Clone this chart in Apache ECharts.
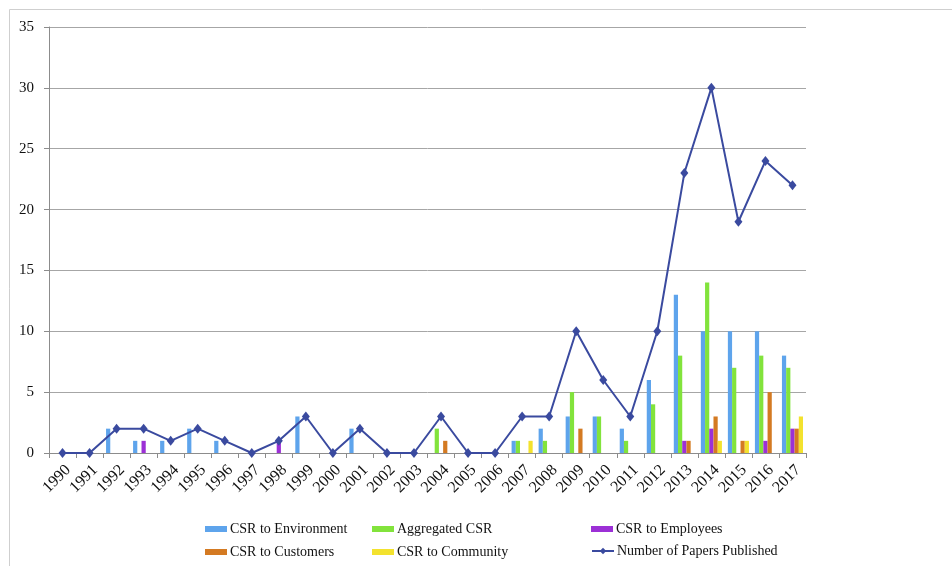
<!DOCTYPE html>
<html>
<head>
<meta charset="utf-8">
<script src="https://cdn.jsdelivr.net/npm/echarts@6/dist/echarts.min.js"></script>
<style>
  html, body { margin: 0; padding: 0; background: #fff; }
  #chart { width: 952px; height: 566px; }
</style>
</head>
<body>
<div id="chart"></div>
<script>
// Publication years
const years = ['1990','1991','1992','1993','1994','1995','1996','1997','1998','1999',
  '2000','2001','2002','2003','2004','2005','2006','2007','2008','2009',
  '2010','2011','2012','2013','2014','2015','2016','2017'];

// Papers per CSR dimension
const csrEnvironment = [0,0,2,1,1,2,1,0,0,3, 0,2,0,0,0,0,0,1,2,3, 3,2,6,13,10,10,10,8];
const csrAggregated  = [0,0,0,0,0,0,0,0,0,0, 0,0,0,0,2,0,0,1,1,5, 3,1,4,8,14,7,8,7];
const csrEmployees   = [0,0,0,1,0,0,0,0,1,0, 0,0,0,0,0,0,0,0,0,0, 0,0,0,1,2,0,1,2];
const csrCustomers   = [0,0,0,0,0,0,0,0,0,0, 0,0,0,0,1,0,0,0,0,2, 0,0,0,1,3,1,5,2];
const csrCommunity   = [0,0,0,0,0,0,0,0,0,0, 0,0,0,0,0,0,0,1,0,0, 0,0,0,0,1,1,0,3];

// Total papers published per year
const papersPublished = [0,0,2,2,1,2,1,0,1,3, 0,2,0,0,3,0,0,3,3,10, 6,3,10,23,30,19,24,22];

const yTicks = { min: 0, max: 35, interval: 5 };

const FONT = "'Liberation Serif', 'DejaVu Serif', serif";
const colors = {
  env: '#5EA4EC',
  agg: '#82E33C',
  emp: '#9C30D6',
  cus: '#D47A22',
  com: '#F3E22E',
  line: '#3A4A9F'
};

function barSeries(name, data, color) {
  return {
    name: name,
    type: 'bar',
    data: data.map(v => v === 0 ? null : v),
    itemStyle: { color: color },
    barGap: '0%',
    barCategoryGap: '22%',
    emphasis: { disabled: true }
  };
}

function legendAt(name, left, top, isLine) {
  return {
    data: [isLine ? { name: name } : { name: name, icon: 'rect' }],
    left: left,
    top: top,
    itemWidth: 22,
    itemHeight: isLine ? 8 : 6,
    itemGap: 0,
    padding: 0,
    selectedMode: false,
    textStyle: { fontFamily: FONT, fontSize: 14, color: '#111', padding: [0, 0, 0, -2] }
  };
}

const chart = echarts.init(document.getElementById('chart'), null, { renderer: 'canvas' });

chart.setOption({
  animation: false,
  backgroundColor: '#fff',
  graphic: [{
    type: 'rect',
    shape: { x: 9.5, y: 9.5, width: 1200, height: 1200 },
    style: { fill: 'none', stroke: '#CFCFCF', lineWidth: 1 },
    silent: true
  }],
  grid: { left: 49, right: 146, top: 27, bottom: 113, containLabel: false },
  legend: [
    legendAt('CSR to Environment', 205, 522, false),
    legendAt('CSR to Customers', 205, 545, false),
    legendAt('Aggregated CSR', 372, 522, false),
    legendAt('CSR to Community', 372, 545, false),
    legendAt('CSR to Employees', 591, 522, false),
    legendAt('Number of Papers Published', 591, 544, true)
  ],
  xAxis: {
    type: 'category',
    data: years,
    boundaryGap: true,
    axisLine: { lineStyle: { color: '#8C8C8C', width: 1 } },
    axisTick: { show: true, length: 5, inside: false, alignWithLabel: false, lineStyle: { color: '#8C8C8C' } },
    axisLabel: {
      rotate: 45,
      interval: 0,
      margin: 9,
      verticalAlign: 'top',
      fontFamily: FONT,
      fontSize: 16,
      color: '#111'
    },
    splitLine: { show: false }
  },
  yAxis: {
    type: 'value',
    min: yTicks.min,
    max: yTicks.max,
    interval: yTicks.interval,
    axisLine: { show: true, lineStyle: { color: '#8C8C8C', width: 1 } },
    axisTick: { show: true, length: 5, lineStyle: { color: '#8C8C8C' } },
    axisLabel: { fontFamily: FONT, fontSize: 15, color: '#111', margin: 15 },
    splitLine: { show: true, lineStyle: { color: '#A6A6A6', width: 1 } }
  },
  series: [
    barSeries('CSR to Environment', csrEnvironment, colors.env),
    barSeries('Aggregated CSR', csrAggregated, colors.agg),
    barSeries('CSR to Employees', csrEmployees, colors.emp),
    barSeries('CSR to Customers', csrCustomers, colors.cus),
    barSeries('CSR to Community', csrCommunity, colors.com),
    {
      name: 'Number of Papers Published',
      type: 'line',
      data: papersPublished,
      symbol: 'diamond',
      symbolSize: [8, 10],
      lineStyle: { color: colors.line, width: 2 },
      itemStyle: { color: colors.line },
      z: 5,
      emphasis: { disabled: true }
    }
  ]
});
</script>
</body>
</html>
